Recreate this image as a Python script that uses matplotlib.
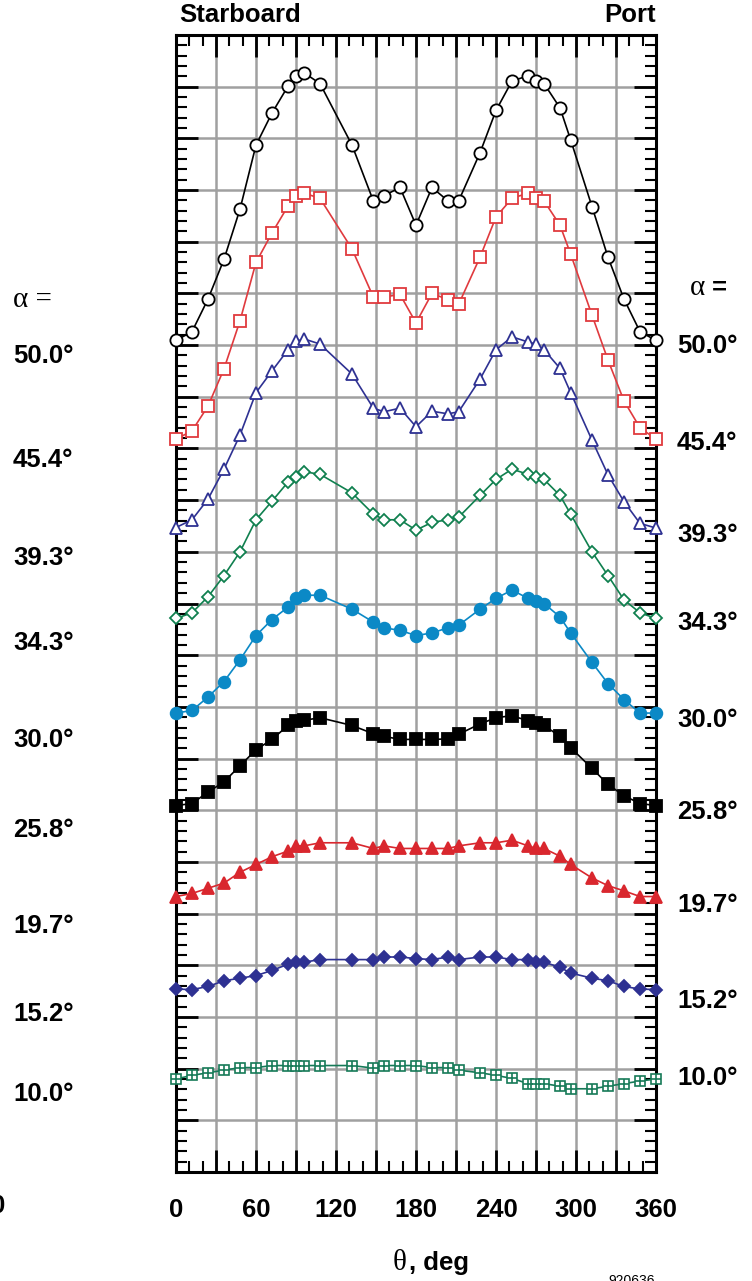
import matplotlib
matplotlib.use("Agg")
import matplotlib.pyplot as plt
from matplotlib.ticker import MultipleLocator, FuncFormatter

# =========================
# DATA
# =========================
theta = [0, 12, 24, 36, 48, 60, 72, 84, 90, 96, 108, 132, 148, 156, 168, 180,
         192, 204, 212, 228, 240, 252, 264, 270, 276, 288, 296, 312, 324, 336, 348, 360]

a500 = [16.09, 16.26, 16.89, 17.66, 18.63, 19.87, 20.49, 21.01, 21.21, 21.27, 21.06,
        19.87, 18.79, 18.89, 19.05, 18.32, 19.05, 18.79, 18.79, 19.72, 20.54, 21.11,
        21.21, 21.11, 21.06, 20.59, 19.97, 18.68, 17.70, 16.89, 16.26, 16.09]
a454 = [14.18, 14.34, 14.82, 15.54, 16.47, 17.60, 18.17, 18.69, 18.89, 18.94, 18.84,
        17.86, 16.93, 16.93, 16.98, 16.43, 17.00, 16.88, 16.79, 17.70, 18.48, 18.84,
        18.94, 18.84, 18.79, 18.32, 17.76, 16.58, 15.71, 14.92, 14.40, 14.18]
a393 = [12.47, 12.62, 13.02, 13.60, 14.26, 15.08, 15.50, 15.91, 16.07, 16.12, 16.02,
        15.44, 14.78, 14.71, 14.78, 14.42, 14.72, 14.67, 14.71, 15.34, 15.91, 16.16,
        16.06, 16.02, 15.91, 15.55, 15.08, 14.16, 13.49, 12.97, 12.55, 12.46]
a343 = [10.71, 10.82, 11.13, 11.54, 12.00, 12.62, 12.98, 13.35, 13.45, 13.55, 13.50,
        13.14, 12.73, 12.62, 12.62, 12.42, 12.57, 12.62, 12.67, 13.09, 13.40, 13.60,
        13.50, 13.45, 13.40, 13.09, 12.73, 12.00, 11.54, 11.07, 10.82, 10.71]
a300 = [8.88, 8.93, 9.19, 9.49, 9.91, 10.38, 10.69, 10.93, 11.10, 11.16, 11.16,
        10.89, 10.64, 10.53, 10.48, 10.38, 10.43, 10.53, 10.58, 10.89, 11.10, 11.26,
        11.10, 11.05, 11.00, 10.74, 10.43, 9.86, 9.45, 9.14, 8.88, 8.88]
a258 = [7.09, 7.13, 7.35, 7.55, 7.86, 8.17, 8.37, 8.64, 8.73, 8.74, 8.79,
        8.64, 8.48, 8.43, 8.37, 8.37, 8.37, 8.38, 8.47, 8.67, 8.79, 8.83,
        8.73, 8.69, 8.64, 8.43, 8.21, 7.81, 7.50, 7.28, 7.13, 7.09]
a197 = [5.33, 5.39, 5.49, 5.59, 5.80, 5.95, 6.10, 6.21, 6.31, 6.31, 6.37,
        6.37, 6.26, 6.31, 6.26, 6.26, 6.26, 6.26, 6.31, 6.37, 6.37, 6.42,
        6.31, 6.26, 6.26, 6.11, 5.95, 5.69, 5.54, 5.44, 5.33, 5.33]
a152 = [3.54, 3.53, 3.59, 3.70, 3.75, 3.80, 3.90, 4.02, 4.06, 4.06, 4.11,
        4.11, 4.11, 4.16, 4.16, 4.13, 4.11, 4.16, 4.11, 4.16, 4.16, 4.11,
        4.11, 4.06, 4.06, 3.96, 3.85, 3.75, 3.70, 3.59, 3.54, 3.53]
a100 = [1.80, 1.87, 1.92, 1.97, 2.02, 2.02, 2.06, 2.06, 2.06, 2.06, 2.06,
        2.06, 2.01, 2.06, 2.06, 2.06, 2.02, 2.02, 1.97, 1.92, 1.87, 1.81,
        1.71, 1.71, 1.71, 1.66, 1.61, 1.61, 1.66, 1.71, 1.76, 1.80]

alpha_labels = ["50.0°", "45.4°", "39.3°", "34.3°", "30.0°", "25.8°", "19.7°", "15.2°", "10.0°"]
xtick_values = [0, 60, 120, 180, 240, 300, 360]

# =========================
# STYLE
# =========================
plt.rcParams["font.family"] = ["Liberation Sans", "DejaVu Sans"]
plt.rcParams["font.weight"] = "bold"

W, H = 752, 1281
fig = plt.figure(figsize=(W / 100, H / 100), dpi=100)
ax = fig.add_axes([176 / W, 1 - 1172 / H, 480 / W, 1137 / H])

ax.set_xlim(0, 360)
ax.set_ylim(0, 22)

series = [
    (a500, "o", 8.8, "black", "white"),
    (a454, "s", 8.2, "#e03a3e", "white"),
    (a393, "^", 9.2, "#2e3192", "white"),
    (a343, "D", 6.2, "#10804f", "white"),
    (a300, "o", 8.4, "#0b89c6", "#0b89c6"),
    (a258, "s", 8.4, "black", "black"),
    (a197, "^", 9.2, "#d9272e", "#d9272e"),
    (a152, "D", 6.4, "#2e3192", "#2e3192"),
]
for vals, mk, ms, col, fc in series:
    ax.plot(theta, vals, color=col, lw=1.2, marker=mk, ms=ms, mfc=fc, mec=col,
            mew=1.3, clip_on=False, zorder=5)

# last series: square with a plus inside
ax.plot(theta, a100, color="#167a58", lw=1.2, marker="s", ms=7.5, mfc="white",
        mec="#167a58", mew=1.2, clip_on=False, zorder=5)
ax.plot(theta, a100, ls="none", marker="+", ms=7.5, mec="#167a58", mew=1.2,
        clip_on=False, zorder=6)

# =========================
# AXES
# =========================
ax.xaxis.set_major_locator(MultipleLocator(30))
ax.xaxis.set_minor_locator(MultipleLocator(10))
ax.yaxis.set_major_locator(MultipleLocator(1))
ax.yaxis.set_minor_locator(MultipleLocator(0.2))
ax.xaxis.set_major_formatter(FuncFormatter(
    lambda v, p: f"{int(round(v))}" if int(round(v)) in xtick_values else ""))
ax.yaxis.set_major_formatter(FuncFormatter(lambda v, p: ""))

ax.tick_params(which="major", direction="in", length=16, width=2,
               top=True, right=True, labelsize=18.5, pad=19)
ax.tick_params(which="minor", direction="in", length=8, width=1.5,
               top=True, right=True)
ax.grid(True, which="major", color="#a0a0a0", lw=1.8, zorder=0)
ax.set_axisbelow(True)
for s in ax.spines.values():
    s.set_linewidth(2.2)
    s.set_zorder(4)

# =========================
# TEXT
# =========================
def fx(px):
    return px / W

def fy(py):
    return 1 - py / H

fig.text(fx(179), fy(15), "Starboard", fontsize=18.5, ha="left", va="center")
fig.text(fx(656), fy(15), "Port", fontsize=18.5, ha="right", va="center")

left_y = [356, 460, 558, 643, 740, 830, 926, 1014, 1094]
right_y = [346, 443, 535, 623, 720, 812, 905, 1001, 1078]

fig.text(fx(13), fy(300), "α =", fontsize=21, ha="left", va="center",
         family="Liberation Serif", fontweight="normal")
fig.text(fx(690), fy(288), "α", fontsize=21, ha="left", va="center",
         family="Liberation Serif", fontweight="normal")
fig.text(fx(712), fy(288), "=", fontsize=18.5, ha="left", va="center")
for lab, yl, yr in zip(alpha_labels, left_y, right_y):
    fig.text(fx(13), fy(yl), lab, fontsize=18.5, ha="left", va="center")
    fig.text(fx(677), fy(yr), lab, fontsize=18.5, ha="left", va="center")

# clipped label at the far left edge, as in the source figure
fig.text(fx(5), fy(1206), "0", fontsize=18.5, ha="right", va="center")

fig.text(fx(407), fy(1263), "θ", fontsize=21, ha="right", va="center",
         family="Liberation Serif", fontweight="normal")
fig.text(fx(409), fy(1263), ", deg", fontsize=18.5, ha="left", va="center")
fig.text(fx(655), fy(1274), "920636", fontsize=10, ha="right", va="top",
         fontweight="normal")

fig.savefig("out.png", dpi=100)
